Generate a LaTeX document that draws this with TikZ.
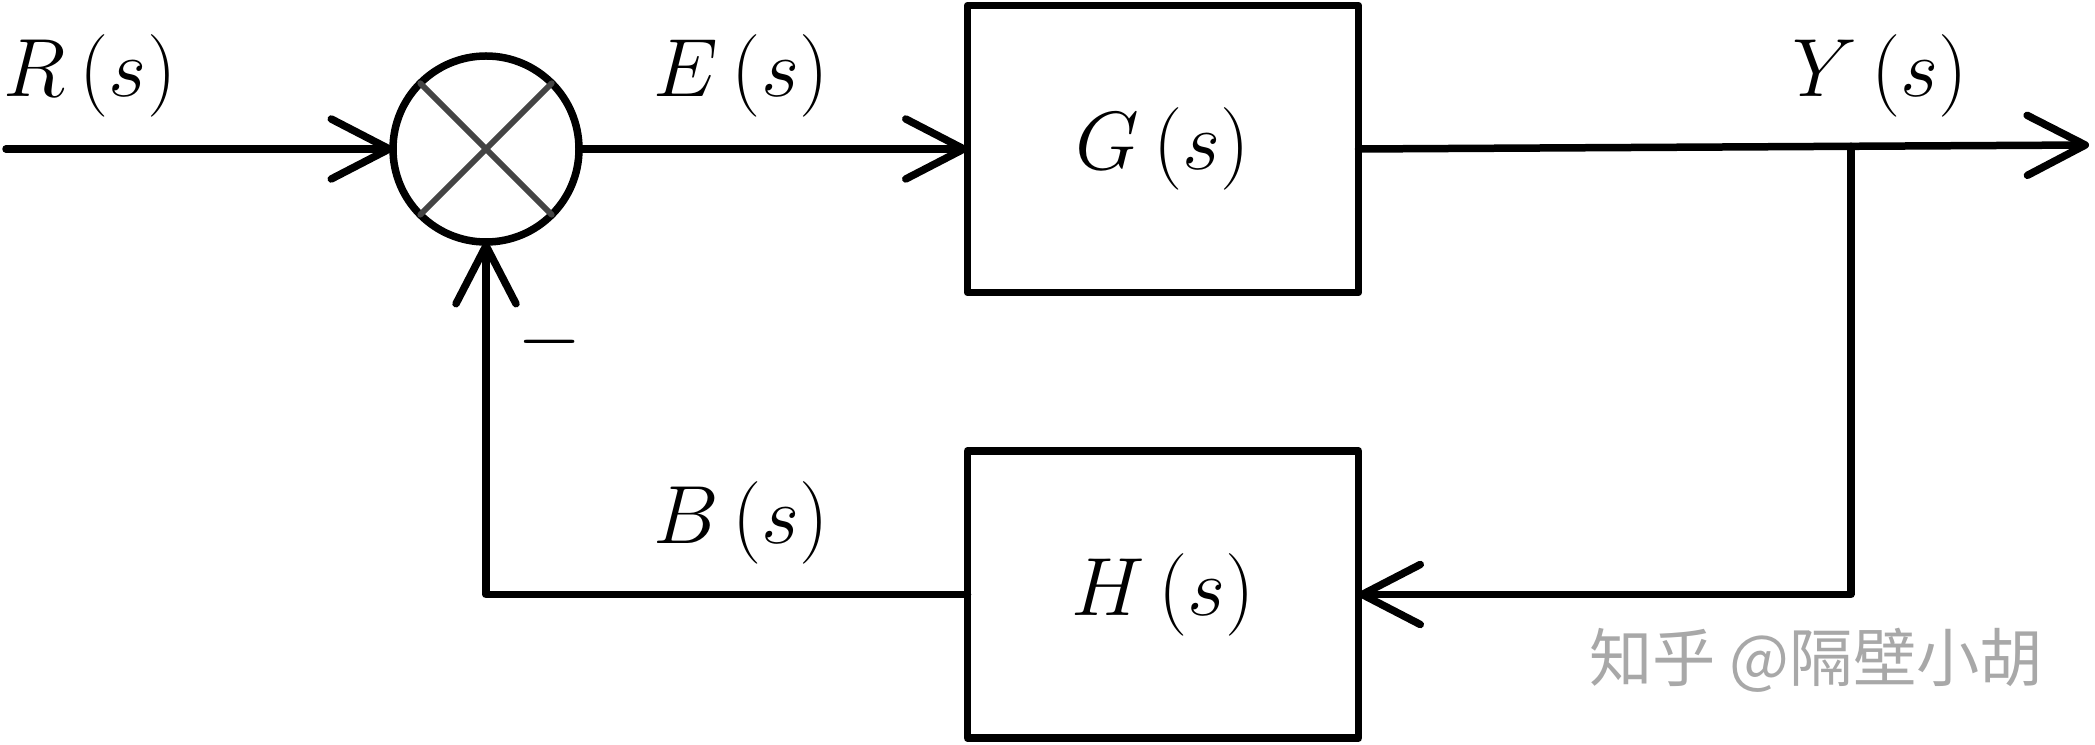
\RequirePackage{fix-cm}
\documentclass[tikz,border=0pt]{standalone}
\usepackage{fontspec}
\newfontfamily\cjkfont{Noto Sans CJK SC}
\usetikzlibrary{arrows.meta,calc}
\definecolor{xgray}{HTML}{444444}
\definecolor{wmgray}{HTML}{A8A8A8}
\begin{document}
\begin{tikzpicture}[x=0.1mm,y=-0.1mm,line cap=round,line join=round,
  wire/.style={line width=0.75mm},
  arr/.style={wire,-{Straight Barb[length=5.8mm,width=6mm,round]}},
  bigfont/.style={font=\fontsize{23.5}{28}\selectfont},
  blockbox/.style={draw,line width=0.75mm,minimum width=39.1mm,minimum height=28.7mm,inner sep=0pt,outer sep=0pt,bigfont},
  sumnode/.style={draw,circle,line width=0.75mm,minimum size=18.6mm,inner sep=0pt,outer sep=0pt},
  lbl/.style={anchor=base,inner sep=0pt,bigfont},
  xline/.style={draw=xgray,line width=0.58mm}]
\useasboundingbox (0,0) rectangle (2095,745);
% blocks
\node[sumnode] (sum) at (486,149) {};
\node[blockbox] (G) at (1163,149) {$G\,(s)$};
\node[blockbox] (H) at (1163,594.5) {$H\,(s)$};
% cross in summing junction
\draw[xline] (sum.north west) -- (sum.south east);
\draw[xline] (sum.north east) -- (sum.south west);
% coordinates
\coordinate (in) at (6,149);
\coordinate (out) at (2089,145);
\coordinate (br) at ($(G.east)!0.674!(out)$);
% connectors
\draw[arr] (in) -- (sum.west);
\draw[arr] (sum.east) -- (G.west);
\draw[arr] (G.east) -- (out);
\draw[arr] (br) |- (H.east);
\draw[arr] (H.west) -| (sum.south);
% labels
\node[lbl] (lR) at (90,97) {$R\,(s)$};
\node[lbl] (lE) at (741,97) {$E\,(s)$};
\node[lbl] (lY) at (1880,97) {$Y\,(s)$};
\node[lbl] (lB) at (741,544) {$B\,(s)$};
\node[bigfont,inner sep=0pt] (minus) at (550,342) {$-$};
% watermark
\node[text=wmgray,inner sep=0pt,font=\cjkfont\fontsize{18}{20}\selectfont] (wm) at (1816,660) {知乎 @隔壁小胡};
\end{tikzpicture}
\end{document}
